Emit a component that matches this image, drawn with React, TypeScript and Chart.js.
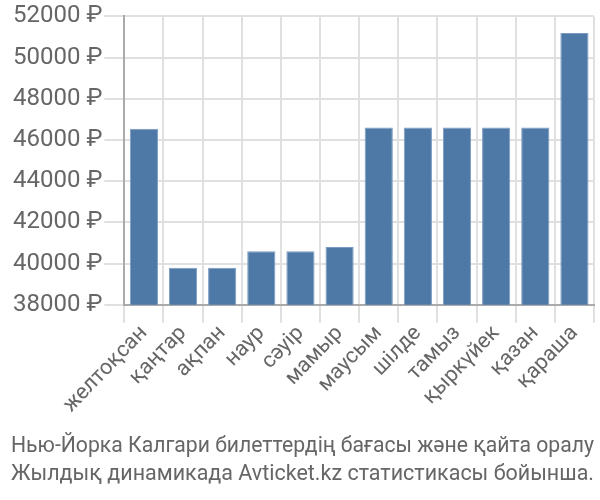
import React, { useEffect, useRef } from "react";
import { Chart, registerables } from "chart.js";

Chart.register(...registerables);

const categories = ["желтоқсан", "қаңтар", "ақпан", "наур", "сәуір", "мамыр", "маусым", "шілде", "тамыз", "қыркүйек", "қазан", "қараша"];
const prices = [46540, 39800, 39800, 40600, 40600, 40800, 46600, 46600, 46600, 46600, 46600, 51200];
const titleLines = ["Нью-Йорка Калгари билеттердің бағасы және қайта оралу", "Жылдық динамикада Avticket.kz статистикасы бойынша."];

export default function App() {
  const ref = useRef<HTMLCanvasElement>(null);
  useEffect(() => {
    const chart = new Chart(ref.current!, {
      type: "bar",
      data: {
        labels: categories,
        datasets: [{
          data: prices,
          backgroundColor: "#4e79a7",
          borderColor: "#7b9cc2",
          borderWidth: 1,
        }],
      },
      options: {
        animation: false,
        responsive: false,
        layout: { padding: { left: 11, right: 6, top: 4, bottom: 0 } },
        plugins: {
          legend: { display: false },
          tooltip: { enabled: false },
          title: {
            display: true,
            position: "bottom",
            text: titleLines,
            color: "#666",
            font: { family: "Roboto", size: 22, weight: "normal", lineHeight: 1.25 },
            padding: { top: 17, bottom: 12 },
          },
        },
        scales: {
          x: {
            grid: { color: "#e0e0e0", lineWidth: 2, offset: true, tickLength: 18 },
            border: { color: "#aaa", width: 2 },
            ticks: { color: "#666", font: { family: "Roboto", size: 21.5 }, maxRotation: 46, minRotation: 46, padding: -2, autoSkip: false },
          },
          y: {
            min: 38000,
            max: 52000,
            grid: { color: "#e0e0e0", lineWidth: 2, tickLength: 20 },
            border: { color: "#aaa", width: 2 },
            ticks: { color: "#666", stepSize: 2000, font: { family: "Roboto", size: 24 }, padding: 2, callback: (v: any) => v + " ₽" },
          },
        },
      },
    });
    return () => chart.destroy();
  }, []);
  return (
    <div style={{ position: "absolute", left: 0, top: 0, width: 600, height: 500 }}>
      <canvas ref={ref} width={600} height={500} />
    </div>
  );
}
